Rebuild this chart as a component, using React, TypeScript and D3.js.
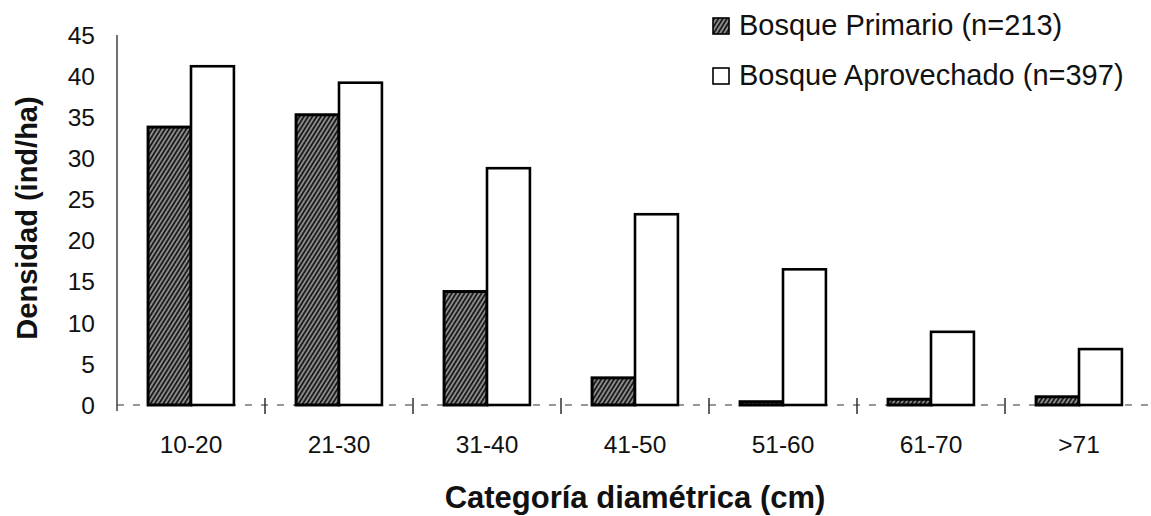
import React from "react";
import * as d3 from "d3";

// Diameter classes and stem densities (ind/ha) for both forest types
const categories = ["10-20", "21-30", "31-40", "41-50", "51-60", "61-70", ">71"];
const seriesNames = ["Bosque Primario (n=213)", "Bosque Aprovechado (n=397)"];
const primario = [33.8, 35.3, 13.8, 3.3, 0.4, 0.7, 1.0];
const aprovechado = [41.2, 39.2, 28.8, 23.2, 16.5, 8.9, 6.8];
const yTicks = [0, 5, 10, 15, 20, 25, 30, 35, 40, 45];

const W = 1151;
const H = 516;
const FONT = "'Liberation Sans', Arial, Helvetica, sans-serif";

export default function App() {
  const left = 117;
  const right = 1153;
  const top = 35;
  const base = 405;

  const x = d3
    .scaleBand<string>()
    .domain(categories)
    .range([left, right])
    .paddingInner(0.42)
    .paddingOuter(0.21);
  const xSub = d3
    .scaleBand<string>()
    .domain(["primario", "aprovechado"])
    .range([0, x.bandwidth()]);
  const y = d3.scaleLinear().domain([0, 45]).range([base, top]);

  const rows = categories.map((c, i) => ({
    cat: c,
    primario: primario[i],
    aprovechado: aprovechado[i],
  }));

  // group boundaries on the category axis
  const boundaries = categories
    .slice(0, -1)
    .map((c) => (x(c) as number) + x.bandwidth() + (x.step() - x.bandwidth()) / 2);

  return (
    <svg
      width={W}
      height={H}
      style={{ position: "absolute", left: 0, top: 0, background: "#fff" }}
      fontFamily={FONT}
    >
      <defs>
        <pattern
          id="hatch"
          patternUnits="userSpaceOnUse"
          width={3.6}
          height={10}
          patternTransform="rotate(32)"
        >
          <rect width={3.6} height={10} fill="#1c1c1c" />
          <line x1={1.8} y1={0} x2={1.8} y2={10} stroke="#c4c4c4" strokeWidth={1.2} />
        </pattern>
      </defs>

      <rect x={0} y={0} width={W} height={H} fill="#fff" />

      {/* y axis */}
      <line x1={left} x2={left} y1={top} y2={411} stroke="#222" strokeWidth={1.3} />
      {yTicks.map((t) => (
        <text
          key={t}
          x={95}
          y={y(t)}
          dy="0.36em"
          textAnchor="end"
          fontSize={24.5}
          fill="#111"
        >
          {t}
        </text>
      ))}

      {/* x axis baseline and group separators */}
      <line
        x1={left}
        x2={right}
        y1={base}
        y2={base}
        stroke="#333"
        strokeWidth={1.2}
        strokeDasharray="7 9"
      />
      {boundaries.map((b, i) => (
        <line key={i} x1={b} x2={b} y1={base - 7} y2={base + 9} stroke="#222" strokeWidth={1.4} />
      ))}

      {/* bars */}
      {rows.map((r) => (
        <g key={r.cat} transform={`translate(${x(r.cat)},0)`}>
          <rect
            x={xSub("primario")}
            y={y(r.primario)}
            width={xSub.bandwidth()}
            height={base - y(r.primario)}
            fill="url(#hatch)"
            stroke="#000"
            strokeWidth={3}
          />
          <rect
            x={xSub("aprovechado")}
            y={y(r.aprovechado)}
            width={xSub.bandwidth()}
            height={base - y(r.aprovechado)}
            fill="#fff"
            stroke="#000"
            strokeWidth={2.6}
          />
        </g>
      ))}

      {/* category labels */}
      {categories.map((c) => (
        <text
          key={c}
          x={(x(c) as number) + x.bandwidth() / 2}
          y={453}
          textAnchor="middle"
          fontSize={24.5}
          fill="#111"
        >
          {c}
        </text>
      ))}

      {/* axis titles */}
      <text
        x={(left + right) / 2}
        y={508}
        textAnchor="middle"
        fontSize={31}
        fontWeight="bold"
        fill="#111"
      >
        Categoría diamétrica (cm)
      </text>
      <text
        transform={`translate(37,218) rotate(-90)`}
        textAnchor="middle"
        fontSize={29}
        fontWeight="bold"
        fill="#111"
      >
        Densidad (ind/ha)
      </text>

      {/* legend */}
      <g>
        <rect x={713} y={18} width={16} height={16} fill="url(#hatch)" stroke="#000" strokeWidth={1.6} />
        <text x={739} y={35} fontSize={29} fill="#111">
          {seriesNames[0]}
        </text>
        <rect x={713} y={68} width={16} height={16} fill="#fff" stroke="#000" strokeWidth={1.6} />
        <text x={739} y={85} fontSize={29} fill="#111">
          {seriesNames[1]}
        </text>
      </g>
    </svg>
  );
}
